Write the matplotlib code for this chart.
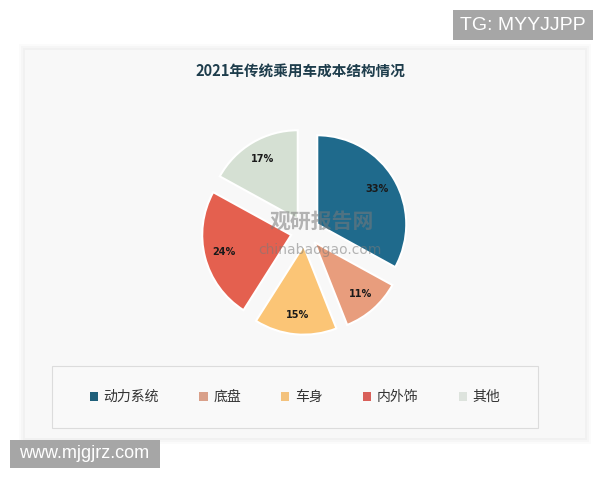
import matplotlib
matplotlib.use("Agg")
import matplotlib.pyplot as plt
from matplotlib.patches import Rectangle, Patch

plt.rcParams["font.family"] = ["Noto Sans CJK SC", "DejaVu Sans"]

# data
CATEGORIES = ["动力系统", "底盘", "车身", "内外饰", "其他"]
SHARES = [33, 11, 15, 24, 17]
COLORS = ["#1f6a8c", "#e89d7d", "#fbc576", "#e4604f", "#d5e0d3"]
LEGEND_COLORS = ["#1f5f7a", "#d9a08a", "#f3c27d", "#d9605a", "#dde3dd"]

TITLE = "2021年传统乘用车成本结构情况"

W, H = 600, 480


def fx(px):
    return px / W


def fy(py):
    # py measured from the top of the picture
    return 1 - py / H


fig = plt.figure(figsize=(6, 4.8), dpi=100)
fig.patch.set_facecolor("white")

# card with a soft shadow
for grow, col in [(6, "#fbfbfb"), (4, "#f6f6f6"), (2, "#f1f1f1")]:
    fig.patches.append(
        Rectangle(
            (fx(25 - grow), fy(438 + grow)),
            fx(560 + 2 * grow),
            (388 + 2 * grow) / H,
            transform=fig.transFigure,
            facecolor=col,
            edgecolor="none",
            zorder=0,
        )
    )
fig.patches.append(
    Rectangle(
        (fx(25), fy(438)),
        fx(560),
        388 / H,
        transform=fig.transFigure,
        facecolor="#f8f8f8",
        edgecolor="none",
        zorder=0,
    )
)

# legend frame
fig.patches.append(
    Rectangle(
        (fx(52), fy(428)),
        fx(486),
        62 / H,
        transform=fig.transFigure,
        facecolor="#f9f9f9",
        edgecolor="#dcdcdc",
        linewidth=0.8,
        zorder=1,
    )
)

fig.text(
    fx(300),
    fy(71),
    TITLE,
    ha="center",
    va="center",
    fontsize=10.5,
    fontweight="bold",
    color="#1e3d4c",
)

# pie axes: square box centred on the pie centre
cx, cy, half = 305, 231.5, 130
R = 89
ax = fig.add_axes([
    fx(cx - half),
    fy(cy + half),
    fx(2 * half),
    2 * half / H,
])
ax.set_facecolor("none")
ax.set_zorder(2)

wedges, texts, autotexts = ax.pie(
    SHARES,
    colors=COLORS,
    startangle=90,
    counterclock=False,
    explode=[0.16] * len(SHARES),
    autopct="%.0f%%",
    pctdistance=0.78,
    wedgeprops=dict(
        edgecolor="white",
        linewidth=1.5,
    ),
    textprops=dict(
        family="DejaVu Sans",
        fontsize=7,
        fontweight="bold",
        color="#1a1a1a",
    ),
)

lim = half / R
ax.set_xlim(-lim, lim)
ax.set_ylim(-lim, lim)
ax.set_aspect("equal")
ax.axis("off")

# faint site watermark in the middle
ax.text(
    0.5 + 17 / (2 * half), 0.5 - (221 - cy) / (2 * half), "观研报告网",
    transform=ax.transAxes,
    ha="center", va="center",
    fontsize=15, fontweight="bold",
    color="#7a7a7a", alpha=0.55, zorder=5,
)
ax.text(
    0.5 + 15 / (2 * half), 0.5 - (250 - cy) / (2 * half), "chinabaogao.com",
    transform=ax.transAxes,
    ha="center", va="center",
    fontsize=10, family="DejaVu Sans",
    color="#7a7a7a", alpha=0.55, zorder=5,
)

handles = [
    Patch(facecolor=c, edgecolor="none")
    for c in LEGEND_COLORS
]
leg = fig.legend(
    handles,
    CATEGORIES,
    ncol=len(CATEGORIES),
    loc="center",
    bbox_to_anchor=(fx(295), fy(397)),
    frameon=False,
    fontsize=10,
    handlelength=0.6,
    handleheight=0.6,
    handletextpad=0.4,
    columnspacing=2.9,
    labelcolor="#333333",
)
leg.set_zorder(3)

# corner stamps
fig.patches.append(
    Rectangle(
        (fx(453), fy(40)),
        fx(140),
        30 / H,
        transform=fig.transFigure,
        facecolor="#a6a6a6",
        edgecolor="none",
        zorder=3,
    )
)
fig.text(
    fx(523), fy(25.5), "TG: MYYJJPP",
    ha="center", va="center",
    fontsize=14, family="Liberation Sans",
    color="white", zorder=4,
)

fig.patches.append(
    Rectangle(
        (fx(10), fy(468)),
        fx(150),
        28 / H,
        transform=fig.transFigure,
        facecolor="#a6a6a6",
        edgecolor="none",
        zorder=3,
    )
)
fig.text(
    fx(84), fy(454), "www.mjgjrz.com",
    ha="center", va="center",
    fontsize=13, family="Liberation Sans",
    color="white", zorder=4,
)

fig.savefig("out.png", dpi=100)
